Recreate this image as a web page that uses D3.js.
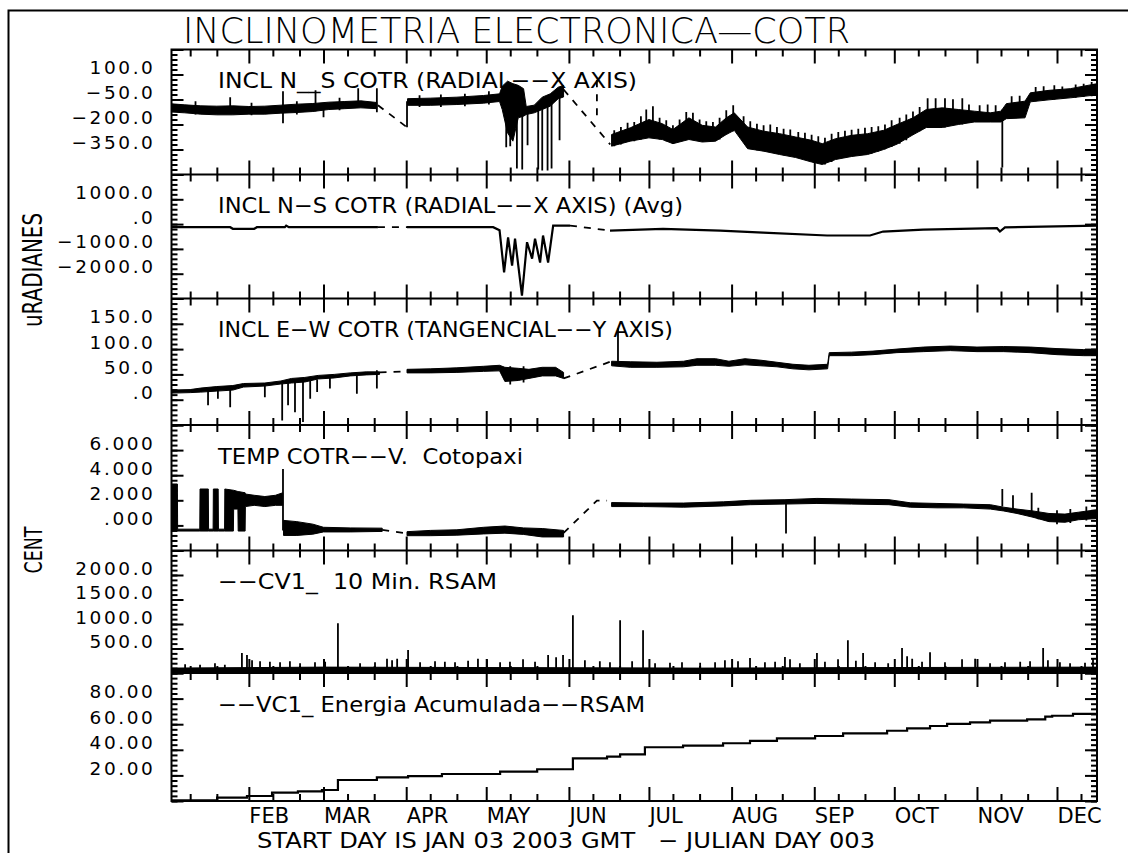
<!DOCTYPE html>
<html>
<head>
<meta charset="utf-8">
<title>Inclinometria electronica - COTR</title>
<script src="https://cdn.jsdelivr.net/npm/d3@7/dist/d3.min.js"></script>
<style>
  html, body { margin: 0; padding: 0; background: #fff; }
  svg { display: block; }
  text { font-family: "DejaVu Sans", "Liberation Sans", sans-serif; fill: #000; white-space: pre; }
</style>
</head>
<body>
<svg id="chart" width="1128" height="853"></svg>
<script>
"use strict";

// ---- data; x is the day of year 2003 ----
const firstDay = 3, lastDay = 350;

const mainTitle = "INCLINOMETRIA ELECTRONICA\u2014COTR";
const footNote = "START DAY IS JAN 03 2003 GMT   \u2212 JULIAN DAY 003";
const monthLabels = ["FEB", "MAR", "APR", "MAY", "JUN", "JUL", "AUG", "SEP", "OCT", "NOV", "DEC"];

// panel 1: INCL N__S, raw  ([day, low, high] envelopes of the noisy trace)
const nsDomain = [-500, 250];
const nsTicks = [100, -50, -200, -350];
const nsBandA = [[3,-125,-76],[8,-130,-82],[14,-138,-88],[20,-142,-90],[26,-142,-88],[32,-138,-92],[38,-138,-90],[44,-132,-84],[50,-128,-78],[56,-122,-74],[62,-110,-66],[68,-105,-62],[74,-100,-58],[80,-105,-68]];
const nsBandB = [[91.5,-85,-45],[100,-85,-42],[110,-80,-36],[120,-72,-26],[126,-62,-16],[127,-110,30],[129,-250,60],[131,-300,45],[133,-160,35],[135,-150,15],[136,-140,-92],[139,-130,-84],[142,-110,-36],[145,-90,-16],[148,-45,24],[150,-35,34]];
const nsBandC = [[168,-330,-260],[175,-300,-220],[182,-280,-170],[187,-290,-195],[191,-315,-230],[197,-290,-160],[202,-305,-205],[207,-300,-215],[211,-260,-160],[214,-235,-130],[219,-345,-215],[225,-360,-240],[231,-380,-255],[237,-398,-275],[243,-425,-295],[247,-440,-315],[252,-410,-285],[258,-392,-265],[264,-380,-255],[270,-350,-235],[275,-318,-200],[281,-262,-160],[286,-218,-110],[292,-218,-100],[298,-200,-110],[304,-185,-120],[310,-185,-130],[314,-185,-120],[316,-165,-75],[323,-160,-60],[325,-64,-10],[332,-52,5],[340,-40,15],[350,-22,45]];
const nsSpikes = [[12,-140,-60],[25,-130,-36],[33,-145,-70],[44.8,-193,0],[50,-140,-60],[57,-120,6],[60,-157,-80],[66,-115,-40],[73,-90,18],[80,-127,18],[91.3,-217,-60],[96,-95,-25],[104,-95,-20],[113,-90,-15],[122,-80,0],[128.5,-337,0],[130,-330,20],[132.5,-464,-50],[134.5,-470,-60],[136.5,-325,-100],[140.5,-470,-90],[142,-476,-70],[144,-476,-50],[145.5,-464,-40],[148.5,-295,0],
  [169,-330,-235],[171.5,-320,-215],[174,-300,-190],[176.5,-300,-185],[179,-290,-150],[181,-280,-110],[183.5,-280,-90],[186,-290,-160],[188.5,-300,-175],[191,-315,-205],[193.5,-300,-170],[196,-290,-125],[198.5,-290,-130],[201,-300,-170],[203.5,-300,-180],[206,-300,-185],[208.5,-290,-160],[211,-260,-115],[213.6,-240,-84],[217.5,-300,-150],[220,-345,-180],[222.5,-355,-195],[225,-360,-205],[227.5,-365,-200],[230,-375,-215],[232.5,-385,-225],[235,-390,-230],[238,-398,-245],[240.5,-410,-250],[243,-420,-262],[245.5,-430,-270],[248,-440,-280],[250.5,-425,-255],[253,-405,-245],[255.5,-398,-238],[258,-390,-232],[260.5,-385,-225],[263,-380,-220],[265.5,-375,-215],[268,-362,-210],[270.5,-348,-200],[273,-335,-175],[276,-315,-160],[278.5,-295,-140],[281,-262,-122],[283.5,-240,-95],[286.5,-218,-42],[289.5,-218,-42],[293,-218,-42],[296,-205,-48],[299.5,-200,-42],[302,-190,-80],[306,-185,-84],[309,-185,-80],[312,-185,-84],[314.5,-458,-110],[318,-160,-30],[321,-160,-28],[327,-60,25],[330,-55,30],[334,-50,35],[337,-45,28],[342,-40,40],[345,-35,45],[348,-30,55]];
const nsGaps = [[[80.4,-84],[91.3,-217]], [[150,10],[167.5,-320]], [[162.5,66],[162.5,-175]]];

// panel 2: INCL N-S, averaged ([day, value])
const avgDomain = [-3000, 2000];
const avgTicks = [1000, 0, -1000, -2000];
const avgLines = [
  [[3,-125],[25,-125],[26,-190],[34,-190],[35,-125],[45.5,-125],[46,-60],[47,-125],[80.4,-125]],
  [[91.3,-125],[123.6,-125],[126,-250],[127.7,-1950],[129.2,-540],[130.7,-1670],[131.8,-590],[134.4,-2880],[136.3,-730],[138.2,-1390],[139.3,-590],[141.2,-1550],[142.3,-460],[144.2,-1550],[146.1,-60],[152.4,-60]],
  [[167.4,-260],[187.3,-190],[208.7,-260],[224.8,-340],[248.8,-460],[264.9,-460],[269.8,-300],[284.8,-220],[312.5,-165],[313.6,-300],[315.5,-130],[350,-60]]
];
const avgGaps = [[[80.4,-125],[91.3,-125]], [[152.4,-60],[167.4,-260]]];

// panel 3: INCL E-W
const ewDomain = [-50, 200];
const ewTicks = [150, 100, 50, 0];
const ewBandA = [[3,13,19],[10,14,20],[14,15,23],[20,17,26],[26,19,28],[30,25,32],[38,27,33],[44,31,37],[48,33,42],[53,35,44],[58,41,48],[64,43,50],[70,47,53],[76,49,55],[81,50,55]];
const ewBandB = [[91.3,53,60],[100,53,61],[110,54,63],[120,56,66],[126,57,68],[128,36,64],[133,38,62],[137,42,60],[142,47,64],[147,47,64],[150,42,54]];
const ewBandC = [[168,67,76],[175,64,75],[185,64,74],[195,65,76],[200,68,81],[207,68,81],[212,66,76],[218,69,81],[224,67,78],[230,65,74],[236,61,70],[242,59,68],[249,61,70],[249.6,87,93],[258,87,94],[266,89,96],[275,93,100],[285,95,104],[295,97,106],[305,95,104],[315,95,105],[325,93,104],[335,89,101],[345,87,99],[350,87,98]];
const ewSpikes = [[16.7,-11,18],[20.4,2,20],[25,-15,22],[38,5,28],[44.5,-41,32],[46.7,-11,34],[49.3,-25,35],[52.3,-44,36],[55,2,38],[57.6,15,40],[62.4,22,44],[72.5,12,48],[80,22,58],[170.4,70,141],[130,30,66],[135,34,66]];
const ewGaps = [[[81,54],[91.3,56]], [[150,42],[167.5,75]]];

// panel 4: TEMP
const tempDomain = [-2, 8];
const tempTicks = [6, 4, 2, 0];
const tempBandA = [[3,-0.45,3.3],[5.2,-0.45,3.3],[5.3,-0.45,-0.3],[13.6,-0.45,-0.3],[13.7,-0.45,2.9],[16.8,-0.45,2.9],[16.9,-0.45,-0.3],[18.6,-0.45,-0.3],[18.7,-0.45,2.9],[20.5,-0.45,2.9],[20.6,-0.45,-0.3],[22.9,-0.45,-0.3],[23,-0.45,2.9],[26.2,-0.45,2.8],[26.3,1.3,2.8],[27.9,1.3,2.7],[28,-0.45,2.7],[30.6,-0.45,2.6],[30.7,1.5,2.5],[34,1.6,2.4],[38,1.5,2.3],[42,1.6,2.4],[44.7,1.6,2.6]];
const tempBandB = [[45,-0.8,0.4],[50,-0.8,0.3],[56,-0.7,0.1],[60,-0.52,-0.15],[70,-0.52,-0.2],[82,-0.48,-0.22]];
const tempBandC = [[91.3,-0.82,-0.5],[100,-0.82,-0.4],[110,-0.78,-0.35],[120,-0.68,-0.15],[128,-0.62,-0.05],[135,-0.72,-0.2],[142,-0.92,-0.25],[150,-0.92,-0.4]];
const tempBandD = [[168,1.5,1.82],[180,1.5,1.78],[195,1.45,1.78],[210,1.55,1.88],[220,1.65,2.0],[233,1.7,2.05],[245,1.75,2.15],[258,1.7,2.1],[272,1.65,2.05],[280,1.45,1.8],[290,1.4,1.75],[300,1.4,1.7],[310,1.3,1.65],[315,1.15,1.45],[320,0.95,1.3],[326,0.65,1.15],[332,0.3,0.95],[338,0.25,0.9],[343,0.45,1.05],[350,0.55,1.25]];
const tempSpikes = [[44.8,-0.4,4.5],[233.4,-0.65,1.7],[314.5,1.5,2.9],[318.5,1.2,2.4],[325.5,1.0,2.6],[328,0.5,1.4],[335,0.1,1.2],[340,0.2,1.3],[346,0.4,1.5]];
const tempGaps = [[[82,-0.35],[91.3,-0.65]], [[150,-0.6],[162.5,1.97],[166.3,1.97]]];

// panel 5: 10 min RSAM
const rsamDomain = [0, 2500];
const rsamTicks = [2000, 1500, 1000, 500];
const rsamBase = [[3,20,100],[60,20,120],[130,20,110],[200,20,100],[260,20,110],[350,20,120]];
const rsamPeaks = [[8.1,180],[13.7,170],[19.3,200],[23,170],[29.4,406],[31.3,365],[33.2,260],[36.2,240],[39.9,230],[43.7,220],[47.4,240],[51.2,200],[56.8,220],[60.6,230],[65.4,1016],[73.7,200],[79.3,220],[83.8,290],[85.7,260],[87.6,290],[91.7,467],[96.2,220],[101.8,240],[105.5,230],[109.3,220],[114.2,250],[117.9,290],[121.3,280],[126.2,220],[129.9,230],[134.8,280],[139.3,230],[144.2,365],[147.2,320],[149.8,365],[153.5,1179],[158,260],[163.6,240],[167.4,220],[171.2,1077],[175.7,240],[179.8,874],[184.3,200],[189.9,210],[194.4,220],[201.2,210],[206.8,220],[210.5,260],[215.4,240],[219.9,304],[225.5,220],[229.3,230],[233,325],[234.9,280],[238.6,200],[245,406],[248,230],[252.9,280],[256.6,670],[259.6,250],[262.3,406],[266.8,220],[271.7,200],[276.9,508],[278.8,340],[280.7,290],[284.4,230],[287.4,426],[293,220],[299.4,280],[304.3,290],[309.9,200],[315.5,220],[321.2,230],[324.9,240],[329.8,508],[331.6,260],[336.1,220],[339.9,200],[345.5,210],[348.5,290]];

// panel 6: accumulated energy (step starts)
const energyDomain = [0, 100];
const energyTicks = [80, 60, 40, 20];
const energySteps = [[3,0.5],[20.1,2.6],[31.3,3.9],[40.7,6.5],[50.4,7.5],[59.4,8.6],[65.4,16.4],[80,18.5],[91.7,19.5],[104.4,21.1],[126.2,22.9],[140.1,24.8],[153.5,33.3],[166.3,34.6],[171.2,36.5],[180.5,42],[194.8,43.2],[209.8,45.1],[219.9,46.9],[230,49],[244.3,50.8],[254.8,52.9],[271.3,54.9],[278.8,56.8],[287.4,58.6],[293.8,60.2],[302.4,61.5],[309.9,62.8],[323.8,63.8],[330.6,65.9],[333.2,66.6],[341,68],[350,68]];

const panelTitles = [
  "INCL N__S COTR (RADIAL\u2212\u2212X AXIS)",
  "INCL N\u2212S COTR (RADIAL\u2212\u2212X AXIS) (Avg)",
  "INCL E\u2212W COTR (TANGENCIAL\u2212\u2212Y AXIS)",
  "TEMP COTR\u2212\u2212V.  Cotopaxi",
  "\u2212\u2212CV1_  10 Min. RSAM",
  "\u2212\u2212VC1_ Energia Acumulada\u2212\u2212RSAM"
];

// ---- layout ----
const plotLeft = 171.5, plotRight = 1097;
const bounds = [49.5, 174.5, 298.5, 425, 550.5, 673, 801];

const day = d => new Date(Date.UTC(2003, 0, 1) + (d - 1) * 864e5);
const x = d3.scaleUtc().domain([day(firstDay), day(lastDay)]).range([plotLeft, plotRight]);

const svg = d3.select("#chart");
const defs = svg.append("defs");

function fmt(v, digits) {
  let s = d3.format("." + digits + "f")(Math.abs(v));
  if (s.startsWith("0.")) s = s.slice(1);
  return (v < 0 ? "\u2212" : "") + s;
}

const panels = [
  { domain: nsDomain, ticks: nsTicks, digits: 1, len: 419 },
  { domain: avgDomain, ticks: avgTicks, digits: 1, len: 465 },
  { domain: ewDomain, ticks: ewTicks, digits: 1, len: 455 },
  { domain: tempDomain, ticks: tempTicks, digits: 3, len: 305 },
  { domain: rsamDomain, ticks: rsamTicks, digits: 1, len: 279 },
  { domain: energyDomain, ticks: energyTicks, digits: 2, len: 427 }
];

panels.forEach((p, i) => {
  p.top = bounds[i];
  p.bottom = bounds[i + 1];
  p.y = d3.scaleLinear().domain(p.domain).range([p.bottom, p.top]);
  defs.append("clipPath").attr("id", "clip" + i).append("rect")
    .attr("x", plotLeft).attr("y", p.top)
    .attr("width", plotRight - plotLeft).attr("height", p.bottom - p.top);
  p.g = svg.append("g").attr("clip-path", "url(#clip" + i + ")");
});

// ---- drawing helpers ----
function drawBands(p, bands) {
  const area = d3.area()
    .x(d => x(day(d[0])))
    .y0(d => p.y(d[1]))
    .y1(d => p.y(d[2]));
  bands.forEach(b => {
    p.g.append("path").datum(b).attr("d", area)
      .attr("fill", "#000").attr("stroke", "#000")
      .attr("stroke-width", 1).attr("stroke-linejoin", "round");
  });
}

function drawSpikes(p, spikes) {
  p.g.selectAll(null).data(spikes).join("line")
    .attr("x1", d => x(day(d[0]))).attr("x2", d => x(day(d[0])))
    .attr("y1", d => p.y(d[1])).attr("y2", d => p.y(d[2]))
    .attr("stroke", "#000").attr("stroke-width", 1.8);
}

function drawLines(p, lines, dashed) {
  const line = d3.line().x(d => x(day(d[0]))).y(d => p.y(d[1]));
  lines.forEach(l => {
    p.g.append("path").datum(l).attr("d", line)
      .attr("fill", "none").attr("stroke", "#000")
      .attr("stroke-width", dashed ? 1.8 : 2.2)
      .attr("stroke-dasharray", dashed ? "7,7" : null);
  });
}

// panel 1
drawBands(panels[0], [nsBandA, nsBandB, nsBandC]);
drawSpikes(panels[0], nsSpikes);
drawLines(panels[0], nsGaps, true);

// panel 2
drawLines(panels[1], avgLines, false);
drawLines(panels[1], avgGaps, true);

// panel 3
drawBands(panels[2], [ewBandA, ewBandB, ewBandC]);
drawSpikes(panels[2], ewSpikes);
drawLines(panels[2], ewGaps, true);

// panel 4
drawBands(panels[3], [tempBandA, tempBandB, tempBandC, tempBandD]);
drawSpikes(panels[3], tempSpikes);
drawLines(panels[3], tempGaps, true);

// panel 5
drawBands(panels[4], [rsamBase]);
drawSpikes(panels[4], rsamPeaks.map(d => [d[0], 40, d[1]]));

// panel 6
panels[5].g.append("path").datum(energySteps)
  .attr("d", d3.line().curve(d3.curveStepAfter).x(d => x(day(d[0]))).y(d => panels[5].y(d[1])))
  .attr("fill", "none").attr("stroke", "#000").attr("stroke-width", 2.2);

// ---- frame and panel boxes ----
svg.append("path").attr("d", "M8.5,853V10.5H1128")
  .attr("fill", "none").attr("stroke", "#000").attr("stroke-width", 2);

svg.append("rect")
  .attr("x", plotLeft).attr("y", bounds[0])
  .attr("width", plotRight - plotLeft).attr("height", bounds[6] - bounds[0])
  .attr("fill", "none").attr("stroke", "#000").attr("stroke-width", 2);

svg.selectAll(null).data(bounds.slice(1, -1)).join("line")
  .attr("x1", plotLeft).attr("x2", plotRight)
  .attr("y1", d => d).attr("y2", d => d)
  .attr("stroke", "#000").attr("stroke-width", 2);

// ---- x ticks at every panel border ----
const monthStarts = d3.utcMonth.range(day(32), day(lastDay + 1));
const tenDays = d3.utcDay.range(day(firstDay), day(lastDay + 1))
  .filter(d => d.getUTCDate() === 10 || d.getUTCDate() === 20);

function cleanAxis(g) {
  g.select(".domain").remove();
  g.selectAll("line").attr("stroke", "#000").attr("stroke-width", 2);
}

bounds.forEach((yb, i) => {
  const axes = [];
  if (i < bounds.length - 1) axes.push(d3.axisBottom);
  if (i > 0) axes.push(d3.axisTop);
  axes.forEach(ax => {
    svg.append("g").attr("transform", "translate(0," + yb + ")")
      .call(ax(x).tickValues(monthStarts).tickSize(14).tickFormat(""))
      .call(cleanAxis);
    svg.append("g").attr("transform", "translate(0," + yb + ")")
      .call(ax(x).tickValues(tenDays).tickSize(7).tickFormat(""))
      .call(cleanAxis);
  });
});

// month names under the last panel
svg.append("g").attr("transform", "translate(0," + bounds[6] + ")")
  .call(d3.axisBottom(x).tickValues(monthStarts).tickSize(0).tickFormat((d, i) => monthLabels[i]))
  .call(g => g.select(".domain").remove())
  .call(g => g.attr("font-family", null).attr("font-size", null))
  .call(g => g.selectAll("text")
    .attr("y", 22).attr("dy", 0).attr("x", 0)
    .attr("text-anchor", "start").attr("font-size", 21));

// ---- y axes ----
panels.forEach(p => {
  const major = p.ticks[0] - p.ticks[1];
  const minor = major / 5;
  const nMin = Math.round((p.domain[1] - p.domain[0]) / minor);
  const minorVals = d3.range(nMin + 1).map(k => p.domain[0] + k * minor);
  const majorVals = minorVals.filter((v, k) => k % 5 === 0);

  [[d3.axisRight, plotLeft], [d3.axisLeft, plotRight]].forEach(([ax, xpos]) => {
    svg.append("g").attr("transform", "translate(" + xpos + ",0)")
      .call(ax(p.y).tickValues(minorVals).tickSize(6).tickFormat(""))
      .call(cleanAxis);
    svg.append("g").attr("transform", "translate(" + xpos + ",0)")
      .call(ax(p.y).tickValues(majorVals).tickSize(12).tickFormat(""))
      .call(cleanAxis);
  });

  svg.append("g").attr("transform", "translate(" + plotLeft + ",0)")
    .call(d3.axisLeft(p.y).tickValues(p.ticks).tickSize(0).tickPadding(16)
      .tickFormat(v => fmt(v, p.digits)))
    .call(g => g.select(".domain").remove())
    .call(g => g.attr("font-family", null).attr("font-size", null))
    .call(g => g.selectAll("text")
      .attr("dy", -1).attr("font-size", 18.5).attr("letter-spacing", 2.6));
});

// ---- texts ----
svg.append("text").attr("x", 183).attr("y", 43)
  .attr("font-size", 36).attr("font-weight", 200)
  .attr("textLength", 667).attr("lengthAdjust", "spacingAndGlyphs")
  .text(mainTitle);

panels.forEach((p, i) => {
  svg.append("text").attr("x", 218).attr("y", p.top + 38.5)
    .attr("font-size", 21)
    .attr("textLength", p.len).attr("lengthAdjust", "spacingAndGlyphs")
    .text(panelTitles[i]);
});

svg.append("text")
  .attr("transform", "translate(41.5,270) rotate(-90)")
  .attr("text-anchor", "middle").attr("font-size", 26)
  .attr("textLength", 114).attr("lengthAdjust", "spacingAndGlyphs")
  .text("uRADIANES");

svg.append("text")
  .attr("transform", "translate(41.5,550) rotate(-90)")
  .attr("text-anchor", "middle").attr("font-size", 25)
  .attr("textLength", 47).attr("lengthAdjust", "spacingAndGlyphs")
  .text("CENT");

svg.append("text").attr("x", 257).attr("y", 848)
  .attr("font-size", 21)
  .attr("textLength", 618).attr("lengthAdjust", "spacingAndGlyphs")
  .text(footNote);
</script>
</body>
</html>
